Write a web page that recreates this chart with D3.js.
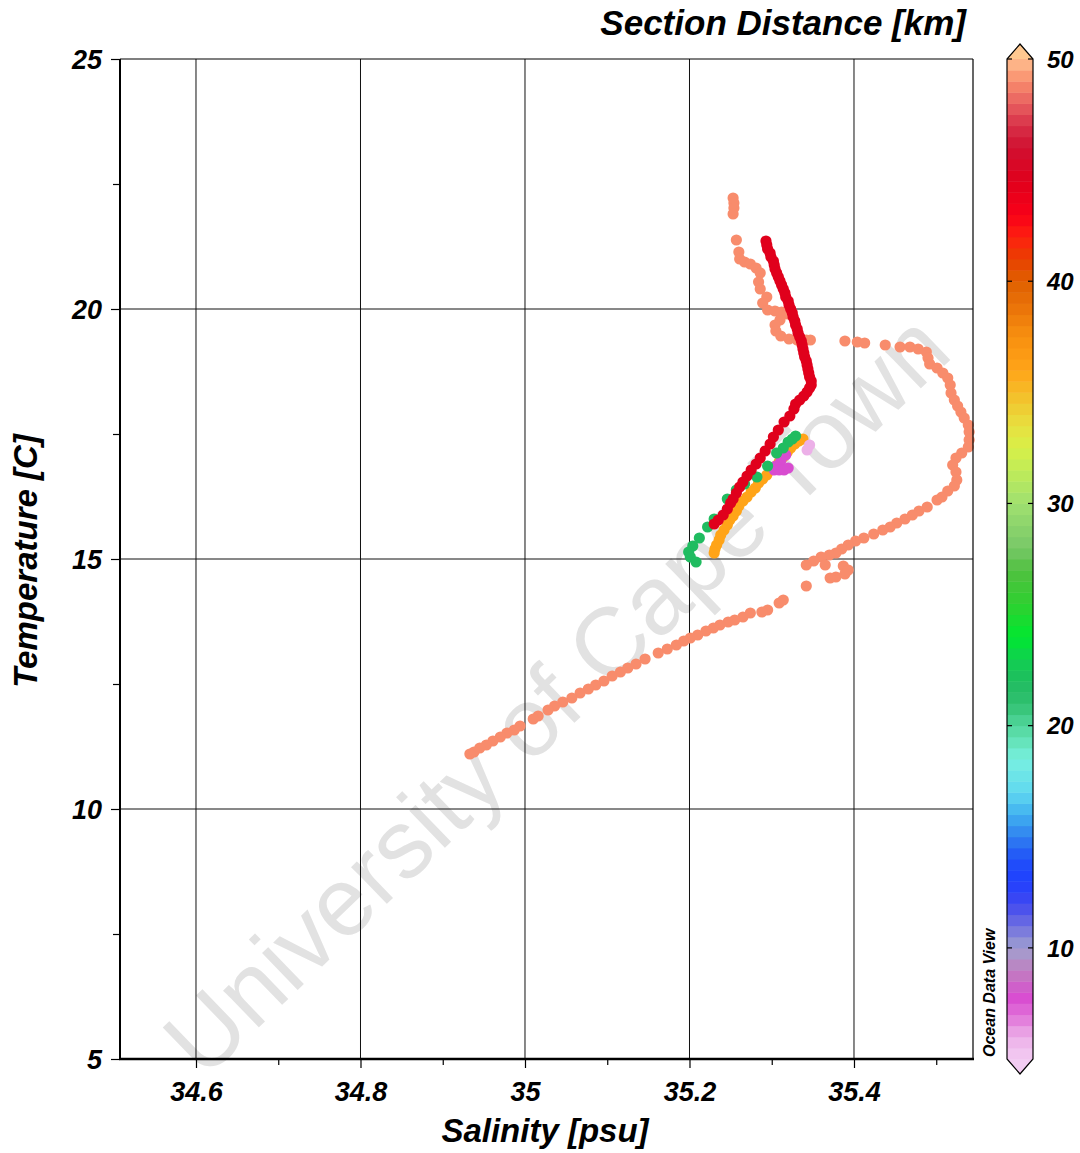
<!DOCTYPE html>
<html>
<head>
<meta charset="utf-8">
<script src="https://cdn.jsdelivr.net/npm/d3@7"></script>
<style>
  body { margin: 0; background: #fff; }
  text { font-family: "Liberation Sans", Arial, sans-serif; }
</style>
</head>
<body>
<svg id="chart"></svg>
<script>
const width = 1080;
const height = 1153;

// axis ticks
const xMajor = [34.6, 34.8, 35, 35.2, 35.4];
const xMinor = [34.7, 34.9, 35.1, 35.3, 35.5];
const yMajor = [5, 10, 15, 20, 25];
const yMinor = [7.5, 12.5, 17.5, 22.5];
const cbarTicks = [10, 20, 30, 40, 50];

// colour palette of section distance (km)
const cmapVals = [5, 6, 7, 7.8, 9, 10, 11, 12, 13, 14, 15, 16, 17, 18.5, 19.5, 20.3, 21, 22, 23, 24, 25.5, 27, 28, 30, 31.5, 32.5, 33.5, 34.5, 36, 37.5, 39, 40, 41, 42, 43, 44.5, 46, 47, 48, 49, 50];
const cmapColors = ["#f2ccf2", "#ecb0e8", "#e070d8", "#d84cd0", "#c080c0", "#a0a0d0", "#7070e0", "#4048f0", "#2040ff", "#2050f8", "#3080f0", "#40b0f0", "#60d8f0", "#78f0e0", "#60e0b0", "#48d090", "#30c070", "#20bc60", "#10d050", "#00e830", "#30d030", "#50c040", "#78c868", "#a0e070", "#c0ec58", "#d8f048", "#e8e040", "#f0c830", "#ffa418", "#f89010", "#e87008", "#e06000", "#e84000", "#ff2010", "#f80018", "#e0001c", "#d01030", "#d83048", "#e86060", "#f88c6c", "#ffc090"];

// stations: [salinity, temperature]
const st49 = [[35.253,22.22],[35.254,22.12],[35.254,22.02],[35.253,21.90],[35.257,21.38],[35.260,21.14],[35.261,21.00],[35.267,20.94],[35.274,20.90],[35.281,20.82],[35.286,20.72],[35.284,20.54],[35.286,20.40],[35.294,20.24],[35.289,20.12],[35.295,19.98],[35.304,19.96],[35.312,19.94],[35.319,19.90],[35.310,19.78],[35.304,19.68],[35.305,19.56],[35.311,19.46],[35.321,19.40],[35.331,19.38],[35.342,19.38],[35.347,19.38],[35.389,19.36],[35.404,19.34],[35.413,19.32],[35.438,19.28],[35.456,19.24],[35.468,19.24],[35.478,19.20],[35.488,19.14],[35.490,19.02],[35.492,18.90],[35.501,18.82],[35.508,18.72],[35.514,18.62],[35.517,18.48],[35.518,18.32],[35.522,18.18],[35.526,18.06],[35.530,17.94],[35.534,17.82],[35.539,17.68],[35.540,17.54],[35.540,17.38],[35.539,17.24],[35.531,17.12],[35.524,17.02],[35.520,16.88],[35.524,16.74],[35.525,16.58],[35.522,16.46],[35.514,16.36],[35.507,16.24],[35.501,16.18],[35.489,16.04],[35.479,15.96],[35.471,15.88],[35.462,15.80],[35.452,15.72],[35.444,15.64],[35.435,15.58],[35.424,15.50],[35.412,15.42],[35.402,15.36],[35.393,15.28],[35.385,15.20],[35.378,15.12],[35.370,15.08],[35.360,15.04],[35.351,14.96],[35.342,14.88],[35.365,14.88],[35.387,14.86],[35.393,14.78],[35.389,14.70],[35.378,14.64],[35.371,14.62],[35.342,14.46],[35.314,14.18],[35.309,14.12],[35.295,13.98],[35.288,13.94],[35.274,13.92],[35.265,13.84],[35.255,13.78],[35.247,13.74],[35.237,13.68],[35.229,13.62],[35.220,13.56],[35.210,13.48],[35.201,13.42],[35.193,13.36],[35.184,13.28],[35.173,13.20],[35.162,13.12],[35.146,13.00],[35.135,12.90],[35.125,12.82],[35.116,12.74],[35.106,12.66],[35.096,12.56],[35.086,12.48],[35.077,12.40],[35.067,12.32],[35.057,12.22],[35.046,12.14],[35.036,12.06],[35.028,11.98],[35.016,11.86],[35.010,11.80],[34.994,11.66],[34.987,11.58],[34.978,11.52],[34.970,11.44],[34.961,11.36],[34.953,11.28],[34.945,11.22],[34.938,11.14],[34.933,11.10]];
const st36 = [[35.338,17.40],[35.333,17.36],[35.328,17.30],[35.323,17.22],[35.319,17.14],[35.314,17.04],[35.309,16.94],[35.305,16.86],[35.299,16.78],[35.294,16.68],[35.289,16.60],[35.284,16.52],[35.280,16.42],[35.275,16.34],[35.270,16.24],[35.265,16.16],[35.260,16.06],[35.257,15.96],[35.253,15.86],[35.249,15.78],[35.246,15.68],[35.242,15.58],[35.238,15.48],[35.236,15.38],[35.233,15.28],[35.231,15.20],[35.230,15.12]];
const st8 = [[35.317,17.08],[35.311,16.96],[35.305,16.86],[35.303,16.78],[35.309,16.78],[35.315,16.78],[35.320,16.82]];
const st6 = [[35.346,17.28],[35.343,17.18]];
const st22 = [[35.329,17.46],[35.325,17.40],[35.320,17.34],[35.314,17.22],[35.306,17.12],[35.295,16.86],[35.282,16.64],[35.267,16.50],[35.257,16.38],[35.246,16.20],[35.230,15.80],[35.222,15.64],[35.212,15.42],[35.204,15.26],[35.199,15.14],[35.201,15.04],[35.208,14.94]];
const st45 = [[35.293,21.36],[35.294,21.28],[35.295,21.20],[35.298,21.12],[35.299,21.04],[35.302,20.96],[35.303,20.88],[35.304,20.80],[35.306,20.72],[35.308,20.64],[35.310,20.56],[35.312,20.48],[35.314,20.40],[35.316,20.32],[35.317,20.24],[35.320,20.16],[35.321,20.08],[35.323,20.00],[35.325,19.92],[35.326,19.84],[35.328,19.76],[35.329,19.68],[35.331,19.60],[35.332,19.52],[35.334,19.44],[35.336,19.36],[35.337,19.28],[35.338,19.20],[35.339,19.12],[35.340,19.04],[35.342,18.96],[35.343,18.88],[35.344,18.80],[35.345,18.72],[35.346,18.64],[35.348,18.56],[35.348,18.48],[35.346,18.42],[35.343,18.34],[35.339,18.26],[35.334,18.18],[35.329,18.10],[35.327,18.00],[35.322,17.86],[35.315,17.74],[35.308,17.58],[35.302,17.44],[35.298,17.30],[35.292,17.16],[35.286,17.02],[35.281,16.90],[35.275,16.78],[35.270,16.66],[35.265,16.54],[35.261,16.44],[35.257,16.32],[35.253,16.20],[35.250,16.12],[35.246,16.00],[35.241,15.88],[35.235,15.78],[35.230,15.70]];

// section distance of each station group, in draw order
const stationDist = [49, 36, 7.8, 6, 22, 44.5];
const stationData = [st49, st36, st8, st6, st22, st45];

const svg = d3.select("#chart").attr("width", width).attr("height", height);

const x = d3.scaleLinear().domain([34.5076, 35.5447]).range([120, 973]);
const y = d3.scaleLinear().domain([5, 25]).range([1059, 59]);
const cmap = d3.scaleLinear().domain(cmapVals).range(cmapColors).interpolate(d3.interpolateRgb);

// watermark
svg.append("text")
  .attr("transform", "translate(556,694) rotate(-44)")
  .attr("text-anchor", "middle")
  .attr("dominant-baseline", "central")
  .attr("font-size", 97)
  .attr("fill", "#e2e2e2")
  .text("University of Cape Town");

// grid
const grid = svg.append("g");
grid.selectAll(".gx").data(xMajor).enter().append("line")
  .attr("x1", d => x(d)).attr("x2", d => x(d))
  .attr("y1", y(25)).attr("y2", y(5))
  .attr("stroke", "#111").attr("stroke-width", 1);
grid.selectAll(".gy").data([10, 15, 20]).enter().append("line")
  .attr("x1", x.range()[0]).attr("x2", x.range()[1])
  .attr("y1", d => y(d)).attr("y2", d => y(d))
  .attr("stroke", "#111").attr("stroke-width", 1);

// stations
stationData.forEach((pts, i) => {
  svg.append("g").selectAll("circle")
    .data(pts)
    .enter()
    .append("circle")
    .attr("cx", d => x(d[0]))
    .attr("cy", d => y(d[1]))
    .attr("r", 5.6)
    .attr("fill", cmap(stationDist[i]));
});

// frame: thin top/right, heavier left/bottom
svg.append("line").attr("x1", 120).attr("x2", 973).attr("y1", 59).attr("y2", 59)
  .attr("stroke", "#000").attr("stroke-width", 1.2);
svg.append("line").attr("x1", 973).attr("x2", 973).attr("y1", 59).attr("y2", 1059)
  .attr("stroke", "#000").attr("stroke-width", 1.2);

const xAxis = svg.append("g").attr("transform", "translate(0,1059)")
  .call(d3.axisBottom(x).tickValues(xMajor).tickSize(9).tickPadding(14).tickFormat(d3.format("")));
const xAxisMinor = svg.append("g").attr("transform", "translate(0,1059)")
  .call(d3.axisBottom(x).tickValues(xMinor).tickSize(6).tickFormat(""));
const yAxis = svg.append("g").attr("transform", "translate(120,0)")
  .call(d3.axisLeft(y).tickValues(yMajor).tickSize(9).tickPadding(9).tickFormat(d3.format("")));
const yAxisMinor = svg.append("g").attr("transform", "translate(120,0)")
  .call(d3.axisLeft(y).tickValues(yMinor).tickSize(7).tickFormat(""));

[xAxis, xAxisMinor, yAxis, yAxisMinor].forEach(g => {
  g.select(".domain").remove();
  g.selectAll("line").attr("stroke", "#000").attr("stroke-width", 1.2);
  g.selectAll("text")
    .attr("font-family", "Liberation Sans, Arial, sans-serif")
    .attr("font-size", 27)
    .attr("font-weight", "bold")
    .attr("font-style", "italic")
    .attr("fill", "#000");
});
yAxis.selectAll("text").attr("dy", "0.36em");

svg.append("line").attr("x1", 120).attr("x2", 120).attr("y1", 59).attr("y2", 1060)
  .attr("stroke", "#000").attr("stroke-width", 2);
svg.append("line").attr("x1", 119).attr("x2", 974).attr("y1", 1059).attr("y2", 1059)
  .attr("stroke", "#000").attr("stroke-width", 2.5);

// axis titles
svg.append("text")
  .attr("x", 545).attr("y", 1142)
  .attr("text-anchor", "middle")
  .attr("font-size", 33).attr("font-weight", "bold").attr("font-style", "italic")
  .text("Salinity [psu]");

svg.append("text")
  .attr("transform", "translate(37,561) rotate(-90)")
  .attr("text-anchor", "middle")
  .attr("font-size", 33).attr("font-weight", "bold").attr("font-style", "italic")
  .text("Temperature [C]");

svg.append("text")
  .attr("x", 966).attr("y", 35)
  .attr("text-anchor", "end")
  .attr("font-size", 35).attr("font-weight", "bold").attr("font-style", "italic")
  .text("Section Distance [km]");

// colour bar
const cb = { x0: 1007, x1: 1033 };
const cy = d3.scaleLinear().domain([5, 50]).range([1059, 59]);
const cbar = svg.append("g");
const bandStep = 0.5;
cbar.selectAll("rect")
  .data(d3.range(5, 50, bandStep))
  .enter()
  .append("rect")
  .attr("x", cb.x0)
  .attr("width", cb.x1 - cb.x0)
  .attr("y", d => cy(d + bandStep))
  .attr("height", d => cy(d) - cy(d + bandStep) + 0.5)
  .attr("fill", d => cmap(d + bandStep / 2));

const cmid = (cb.x0 + cb.x1) / 2;
cbar.append("path")
  .attr("d", `M${cb.x0},${cy(50)} L${cmid},${cy(50) - 15} L${cb.x1},${cy(50)} Z`)
  .attr("fill", "#ffc890");
cbar.append("path")
  .attr("d", `M${cb.x0},${cy(5)} L${cmid},${cy(5) + 15} L${cb.x1},${cy(5)} Z`)
  .attr("fill", "#f2ccf2");
cbar.append("path")
  .attr("d", `M${cb.x0},${cy(5)} L${cb.x0},${cy(50)} L${cmid},${cy(50) - 15} L${cb.x1},${cy(50)} L${cb.x1},${cy(5)} L${cmid},${cy(5) + 15} Z`)
  .attr("fill", "none").attr("stroke", "#000").attr("stroke-width", 1.2);

cbarTicks.forEach(t => {
  cbar.append("line").attr("x1", cb.x0).attr("x2", cb.x0 + 5).attr("y1", cy(t)).attr("y2", cy(t))
    .attr("stroke", "#000").attr("stroke-width", 1.2);
  cbar.append("line").attr("x1", cb.x1 - 5).attr("x2", cb.x1).attr("y1", cy(t)).attr("y2", cy(t))
    .attr("stroke", "#000").attr("stroke-width", 1.2);
  cbar.append("text")
    .attr("x", 1047).attr("y", cy(t)).attr("dy", "0.36em")
    .attr("font-size", 24).attr("font-weight", "bold").attr("font-style", "italic")
    .text(t);
});

svg.append("text")
  .attr("transform", "translate(995,1057) rotate(-90)")
  .attr("text-anchor", "start")
  .attr("font-size", 16).attr("font-weight", "bold").attr("font-style", "italic")
  .text("Ocean Data View");
</script>
</body>
</html>
